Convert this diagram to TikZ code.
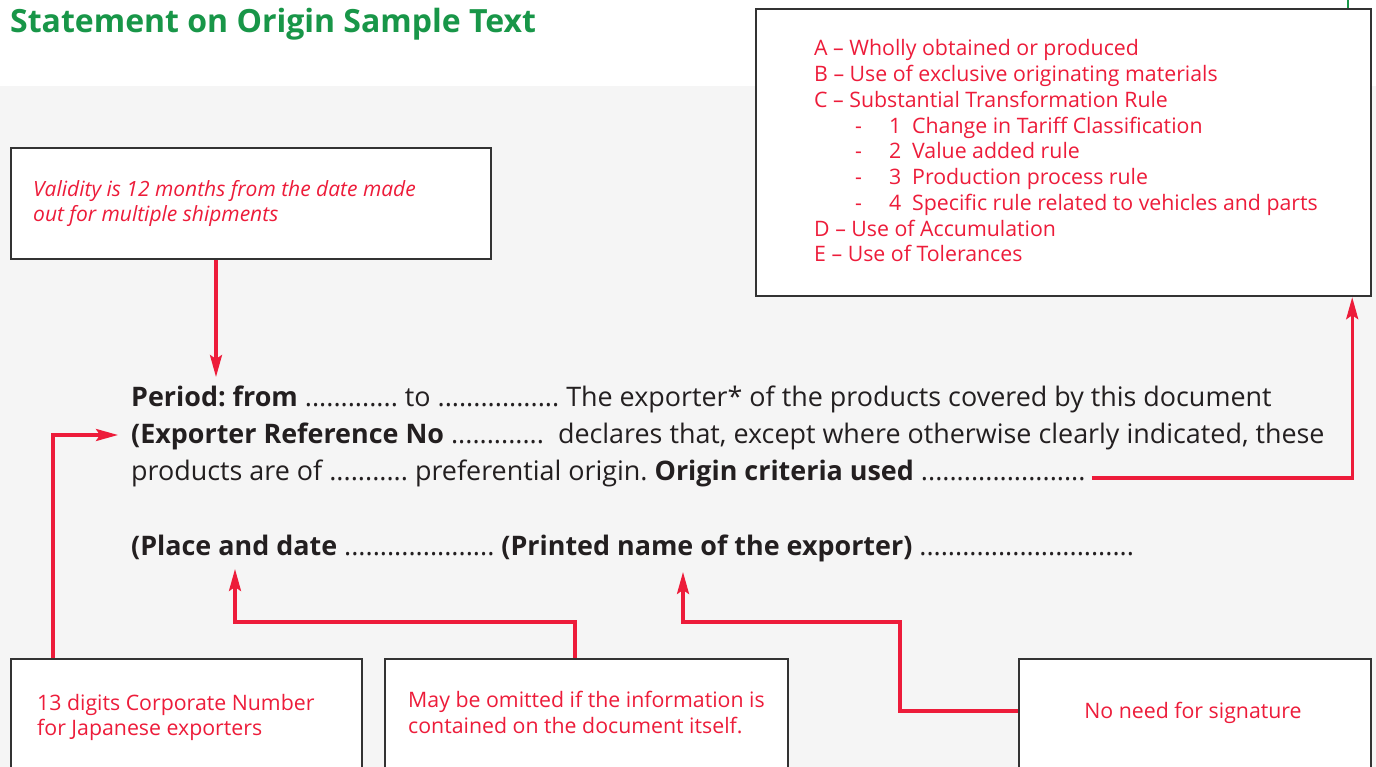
\documentclass[tikz,border=0pt]{standalone}
\usepackage{fontspec}
\setmainfont{Open Sans}
\usetikzlibrary{arrows.meta, positioning}
\frenchspacing

\definecolor{titlegreen}{RGB}{24,150,72}
\definecolor{notered}{RGB}{237,28,58}
\definecolor{inkgrey}{RGB}{35,31,32}
\definecolor{boxline}{RGB}{51,51,51}
\definecolor{pagegrey}{RGB}{245,245,245}

\tikzset{
	notebox/.style = {draw = boxline, line width = 2.2pt, fill = white, inner sep = 0pt, anchor = north west},
	notetext/.style = {text = notered, font = \fontsize{21.3}{25.7}\selectfont, anchor = base west, inner sep = 0pt, align = left},
	bodytext/.style = {text = inkgrey, font = \fontsize{26.9}{37}\selectfont, anchor = base west, inner sep = 0pt},
	pointer/.style = {draw = notered, line width = 3.2pt, -{Stealth[length = 22pt, width = 12pt, inset = 4pt]}}
}

\begin{document}
\begin{tikzpicture}[x = 1pt, y = -1pt]

	% Page + title

	\useasboundingbox (0, 0) rectangle (1376, 767);
	\clip (0, 0) rectangle (1376, 767);
	\fill [white] (0, 0) rectangle (1376, 86);
	\fill [pagegrey] (0, 86) rectangle (1376, 767);

	\node [anchor = base west, inner sep = 0pt, text = titlegreen, font = \fontsize{32}{40}\selectfont\bfseries] (title) at (10, 33) {Statement on Origin Sample Text};

	% Note boxes

	\node [notebox, minimum width = 615pt, minimum height = 287pt] (criteria) at (755, 8) {};
	\node [notebox, minimum width = 480pt, minimum height = 111pt] (validity) at (10, 147) {};
	\node [notebox, minimum width = 351pt, minimum height = 130pt] (corpno) at (10, 658) {};
	\node [notebox, minimum width = 403pt, minimum height = 130pt] (omit) at (384, 658) {};
	\node [notebox, minimum width = 352pt, minimum height = 130pt] (signature) at (1018, 658) {};

	\draw [titlegreen, line width = 2.5pt] ([xshift = -24pt]criteria.north east) -- ++(0, -8);

	% Note texts

	\foreach \y/\txt [count = \i] in {56/A – Wholly obtained or produced, 81.7/B – Use of exclusive originating materials, 107.5/C – Substantial Transformation Rule, 236.7/D – Use of Accumulation, 262/E – Use of Tolerances}
		\node [notetext] (crit\i) at (814, \y) {\txt};

	\foreach \n/\txt in {1/Change in Tariff Classification, 2/Value added rule, 3/Production process rule, 4/Specific rule related to vehicles and parts} {
		\node [notetext] (dash\n) at (855, {107.5 + 25.7 * \n}) {-};
		\node [notetext] (num\n) at (889, {107.5 + 25.7 * \n}) {\n};
		\node [notetext] (rule\n) at (912, {107.5 + 25.7 * \n}) {\txt};
	}

	% (base of a two-line node = last line)
	\node [notetext, font = \fontsize{21}{25}\selectfont\itshape] (validtext) at (33, 221.7) {Validity is 12 months from the date made\\out for multiple shipments};
	\node [notetext, font = \fontsize{21.3}{25.6}\selectfont] (corptext) at (37, 735.6) {13 digits Corporate Number\\for Japanese exporters};
	\node [notetext, font = \fontsize{21.3}{25.3}\selectfont] (omittext) at (408, 733) {May be omitted if the information is\\contained on the document itself.};
	\node [notetext, anchor = base] (signtext) at (1193, 718) {No need for signature};

	% Statement text

	\node [bodytext] (line1) at (131, 406) {\textbf{Period: from} ............. to ................. The exporter* of the products covered by this document};
	\node [bodytext] (line2) at (131, 443) {\textbf{(Exporter Reference No} .............\ \ declares that, except where otherwise clearly indicated, these};
	\node [bodytext] (line3) at (131, 480.7) {products are of ........... preferential origin. \textbf{Origin criteria used} .......................};
	\node [bodytext] (line4) at (131, 555) {\textbf{(Place and date} ..................... \textbf{(Printed name of the exporter)} ..............................};

	% Pointers

	\coordinate (placedate) at (235, 569);
	\coordinate (placebend) at (235, 622);
	\coordinate (printname) at (683, 572);
	\coordinate (printbend) at (900, 622);

	\draw [pointer] (validity.south -| 216, 0) -- (216, 377);
	\draw [pointer] ([xshift = 43pt]corpno.north west) |- ([xshift = -13pt, yshift = 8pt]line2.base west);
	\draw [pointer] ([xshift = 191pt]omit.north west) |- (placebend) -- (placedate);
	\draw [pointer] (signature.west |- 0, 711) -| (printbend) -| (printname);
	\draw [pointer] ([xshift = 6pt, yshift = 2.7pt]line3.base east) -| ([xshift = -20pt]criteria.south east);

\end{tikzpicture}
\end{document}
